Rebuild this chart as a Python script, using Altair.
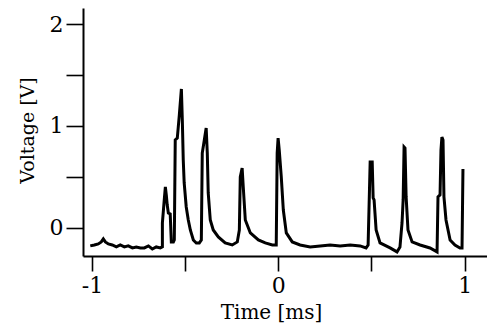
import altair as alt
import pandas as pd

# Time [ms] and Voltage [V]
time_ms = [-1.009, -0.987, -0.966, -0.950, -0.939, -0.928, -0.912, -0.891, -0.869, -0.848,
           -0.826, -0.805, -0.783, -0.762, -0.740, -0.719, -0.697, -0.676, -0.655, -0.633,
           -0.622, -0.622, -0.612, -0.606, -0.601, -0.596, -0.590, -0.580, -0.574, -0.563,
           -0.558, -0.553, -0.542, -0.531, -0.520, -0.515, -0.510, -0.505, -0.494, -0.483,
           -0.472, -0.456, -0.440, -0.424, -0.413, -0.408, -0.397, -0.387, -0.381, -0.376,
           -0.365, -0.349, -0.322, -0.285, -0.247, -0.220, -0.209, -0.204, -0.194, -0.188,
           -0.177, -0.150, -0.107, -0.070, -0.032, -0.011, -0.006, -0.001, 0.005, 0.016,
           0.027, 0.043, 0.075, 0.117, 0.171, 0.225, 0.278, 0.332, 0.386, 0.439,
           0.471, 0.482, 0.493, 0.504, 0.509, 0.514, 0.525, 0.546, 0.600, 0.637,
           0.653, 0.664, 0.670, 0.675, 0.680, 0.686, 0.696, 0.718, 0.761, 0.814,
           0.852, 0.857, 0.868, 0.873, 0.878, 0.884, 0.889, 0.900, 0.922, 0.948,
           0.975, 0.986, 0.991]
voltage_v = [-0.176, -0.167, -0.157, -0.137, -0.108, -0.137, -0.157, -0.167, -0.186, -0.167,
             -0.186, -0.176, -0.196, -0.186, -0.196, -0.196, -0.176, -0.206, -0.186, -0.196,
             -0.186, 0.049, 0.275, 0.402, 0.324, 0.225, 0.147, 0.137, -0.137, -0.137,
             -0.118, 0.863, 0.882, 1.108, 1.363, 1.059, 0.667, 0.441, 0.206, 0.078,
             -0.020, -0.118, -0.147, -0.147, -0.118, 0.735, 0.863, 0.980, 0.735, 0.343,
             0.078, -0.020, -0.088, -0.147, -0.167, -0.137, -0.020, 0.500, 0.588, 0.402,
             0.078, -0.049, -0.118, -0.147, -0.167, -0.167, 0.735, 0.882, 0.765, 0.500,
             0.176, -0.049, -0.137, -0.167, -0.186, -0.176, -0.167, -0.176, -0.167, -0.176,
             -0.196, -0.167, 0.647, 0.647, 0.294, 0.275, -0.020, -0.147, -0.196, -0.235,
             -0.186, 0.049, 0.275, 0.794, 0.784, 0.304, -0.020, -0.137, -0.167, -0.196,
             -0.235, 0.304, 0.324, 0.765, 0.892, 0.863, 0.304, 0.078, -0.118, -0.167,
             -0.196, -0.196, 0.578]

x_ticks = [-1, -0.5, 0, 0.5, 1]
y_ticks = [0, 0.5, 1, 1.5, 2]
x_domain = [-1.048, 1.12]
y_domain = [-0.275, 2.157]

df = pd.DataFrame({"i": range(len(time_ms)), "t": time_ms, "v": voltage_v})

FONT = "DejaVu Serif"

chart = (
    alt.Chart(df)
    .mark_line(color="black", strokeWidth=3, strokeJoin="miter", clip=True)
    .encode(
        x=alt.X(
            "t:Q",
            scale=alt.Scale(domain=x_domain, nice=False, zero=False),
            axis=alt.Axis(
                values=x_ticks,
                labelExpr="abs(datum.value % 1) < 0.001 ? (datum.value < 0 ? '-' : '') + abs(datum.value) : ''",
                title="Time [ms]",
                titleFont=FONT,
                titleFontSize=20,
                titleFontWeight="normal",
                titleColor="black",
                titleX=188,
                titleY=56,
                titleBaseline="middle",
                labelFont=FONT,
                labelFontSize=22,
                labelColor="black",
                labelPadding=4,
                tickSize=15,
                tickWidth=1.6,
                tickColor="black",
                domainColor="black",
                domainWidth=2,
                grid=False,
            ),
        ),
        y=alt.Y(
            "v:Q",
            scale=alt.Scale(domain=y_domain, nice=False, zero=False),
            axis=alt.Axis(
                values=y_ticks,
                labelExpr="abs(datum.value % 1) < 0.001 ? '' + datum.value : ''",
                title="Voltage [V]",
                titleFont=FONT,
                titleFontSize=19,
                titleFontWeight="normal",
                titleColor="black",
                titleX=-56,
                titleY=122,
                titleBaseline="middle",
                labelFont=FONT,
                labelFontSize=22,
                labelColor="black",
                labelPadding=3,
                tickSize=17,
                tickWidth=1.6,
                tickColor="black",
                domainColor="black",
                domainWidth=2,
                grid=False,
            ),
        ),
        order="i:Q",
    )
    .properties(
        width=404,
        height=248,
        autosize=alt.AutoSizeParams(type="none"),
        padding={"left": 75, "top": 0, "right": 0, "bottom": 68},
        background="white",
    )
    .configure_view(stroke=None)
)

chart.save("out.html", embed_options={"renderer": "svg", "actions": False})
